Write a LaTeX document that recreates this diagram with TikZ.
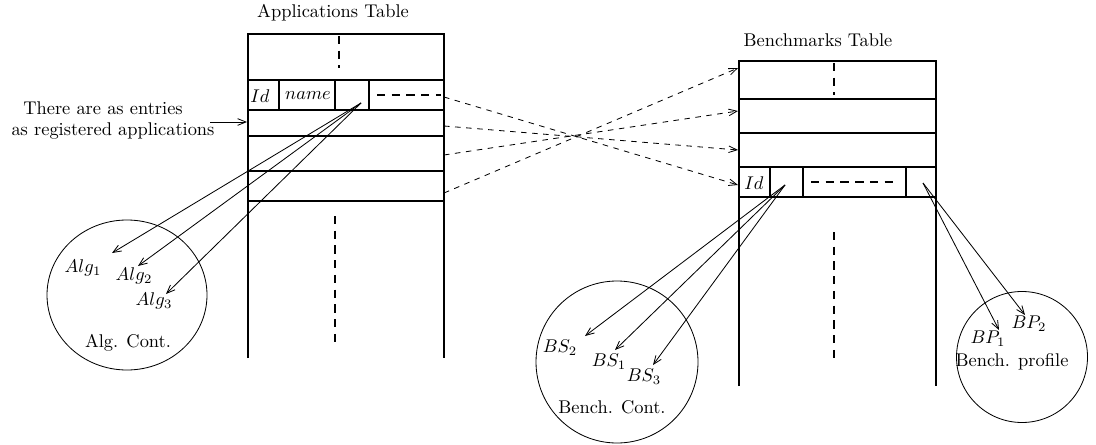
\documentclass[tikz,border=0pt]{standalone}
\usetikzlibrary{arrows.meta}
\begin{document}
\begin{tikzpicture}[x=0.543pt,y=-0.543pt,
  tbl/.style={line width=0.6pt},
  dsh/.style={line width=0.6pt,dash pattern=on 4.5pt off 3.5pt},
  link/.style={line width=0.45pt,-{Straight Barb[length=4.5pt,width=3.6pt]}},
  dlink/.style={line width=0.45pt,dash pattern=on 3pt off 3pt,-{Straight Barb[length=4.5pt,width=3.6pt]}},
  lbl/.style={inner sep=0pt,font=\fontsize{10}{12}\selectfont}]
\useasboundingbox (0,0) rectangle (1096,445);

% ---------- Applications table ----------
\node[lbl] (apptitle) at (333,13) {Applications Table};
\draw[tbl] (248,358) -- (248,34) -- (444,34) -- (444,358);
\foreach \y in {80,110,136,171,201} \draw[tbl] (248,\y) -- (444,\y);
\draw[tbl] (279,80) -- (279,110) (335,80) -- (335,110) (369,80) -- (369,110);
\draw[dsh] (339,36) -- (339,68);
\draw[dsh] (377,95) -- (441,95);
\draw[dsh] (335,216) -- (335,346);
\node[lbl] (appid) at (260,96) {$Id$};
\node[lbl] (appname) at (308,96) {$name$};

% note
\node[lbl] (note1) at (103,108) {There are as entries};
\node[lbl] (note2) at (113,131) {as registered applications};
\coordinate (noteend) at (210,122);
\coordinate (rowin) at (247,122);
\draw[link] (noteend) -- (rowin);

% ---------- Alg container ----------
\draw[line width=0.45pt] (127,295) ellipse [x radius=80, y radius=75];
\node[lbl] (alg1) at (83,268) {$Alg_1$};
\node[lbl] (alg2) at (134,276) {$Alg_2$};
\node[lbl] (alg3) at (154,301) {$Alg_3$};
\node[lbl] (algcont) at (128,343) {Alg. Cont.};
\coordinate (algsrc) at (361,103);
\coordinate (a1) at (112,253);
\coordinate (a2) at (138,266);
\coordinate (a3) at (166,294);
\draw[link] (algsrc) -- (a1);
\draw[link] (algsrc) -- (a2);
\draw[link] (algsrc) -- (a3);

% ---------- Benchmarks table ----------
\node[lbl] (benchtitle) at (818,40) {Benchmarks Table};
\draw[tbl] (739,386) -- (739,61) -- (936,61) -- (936,386);
\foreach \y in {99,133,167,197} \draw[tbl] (739,\y) -- (936,\y);
\draw[tbl] (770,167) -- (770,197) (803,167) -- (803,197) (906,167) -- (906,197);
\draw[dsh] (834,63) -- (834,95);
\draw[dsh] (811,182) -- (898,182);
\draw[dsh] (834,232) -- (834,360);
\node[lbl] (benchid) at (754,183) {$Id$};

% ---------- dashed links between tables ----------
\coordinate (s1) at (444,97);
\coordinate (s2) at (444,126);
\coordinate (s3) at (444,155);
\coordinate (s4) at (444,193);
\coordinate (t1) at (738,185);
\coordinate (t2) at (738,150);
\coordinate (t3) at (738,111);
\coordinate (t4) at (738,68);
\draw[dlink] (s1) -- (t1);
\draw[dlink] (s2) -- (t2);
\draw[dlink] (s3) -- (t3);
\draw[dlink] (s4) -- (t4);

% ---------- Bench container ----------
\draw[line width=0.45pt] (617,362) circle [radius=81];
\node[lbl] (bs2) at (560,348) {$BS_2$};
\node[lbl] (bs1) at (609,362) {$BS_1$};
\node[lbl] (bs3) at (644,377) {$BS_3$};
\node[lbl] (benchcont) at (612,407) {Bench. Cont.};
\coordinate (bssrc) at (785,185);
\coordinate (b2) at (585,336);
\coordinate (b1) at (615,350);
\coordinate (b3) at (653,365);
\draw[link] (bssrc) -- (b2);
\draw[link] (bssrc) -- (b1);
\draw[link] (bssrc) -- (b3);

% ---------- Bench profile ----------
\draw[line width=0.45pt] (1022,357) circle [radius=65.5];
\node[lbl] (bp1) at (988,339) {$BP_1$};
\node[lbl] (bp2) at (1029,324) {$BP_2$};
\node[lbl] (benchprof) at (1012,362) {Bench. profile};
\coordinate (bpsrc) at (923,183);
\coordinate (p1) at (999,330);
\coordinate (p2) at (1025,315);
\draw[link] (bpsrc) -- (p1);
\draw[link] (bpsrc) -- (p2);
\end{tikzpicture}
\end{document}
